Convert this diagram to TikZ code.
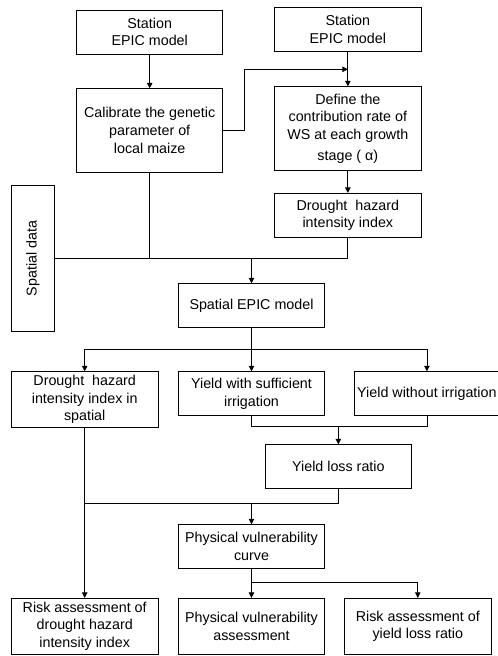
\documentclass[tikz,border=0pt]{standalone}
\usepackage{fontspec}
\setmainfont{Liberation Sans}
\usetikzlibrary{arrows.meta}
\begin{document}
\begin{tikzpicture}[x=1pt,y=-1pt,
  box/.style={draw,line width=0.8pt,align=center,inner sep=0pt,
    font=\fontsize{14.3}{17.7}\selectfont},
  arr/.style={line width=0.8pt,-{Triangle[length=5.5pt,width=5.5pt]}},
  ln/.style={line width=0.8pt}]
\useasboundingbox (0,0) rectangle (498,656);
% nodes
\node[box,minimum width=146pt,minimum height=44pt] (st1) at (149.7,32) {Station\\EPIC model};
\node[box,minimum width=146.3pt,minimum height=44pt] (st2) at (347.85,29.7) {Station\\EPIC model};
\node[box,minimum width=146pt,minimum height=83.3pt] (cal) at (149.7,130.35) {Calibrate the genetic\\parameter of\\local maize};
\node[box,minimum width=146.3pt,minimum height=83.3pt] (def) at (347.85,128.35) {Define the\\contribution rate of\\WS at each growth\\[3pt]stage ( α)};
\node[box,minimum width=146.3pt,minimum height=44pt] (dr) at (347.85,215.3) {Drought~ hazard\\intensity index};
\node[box,minimum width=43.7pt,minimum height=146.4pt] (sd) at (32.85,258.5) {};
\node[font=\fontsize{14.3}{17.7}\selectfont,rotate=90] (sdt) at (sd.center) {Spatial data};
\node[box,minimum width=145.6pt,minimum height=43.6pt] (sep) at (251.5,305.5) {Spatial EPIC model};
\node[box,minimum width=146.4pt,minimum height=55.6pt] (dsp) at (84.7,399.5) {Drought~ hazard\\intensity index in\\spatial};
\node[box,minimum width=145.6pt,minimum height=43.6pt] (yws) at (251.5,393.5) {Yield with sufficient\\irrigation};
\node[box,minimum width=145pt,minimum height=43.6pt] (ywo) at (426.9,393.5) {Yield without irrigation};
\node[box,minimum width=146.7pt,minimum height=44pt] (ylr) at (338.35,466.7) {Yield loss ratio};
\node[box,minimum width=145.6pt,minimum height=44pt] (pvc) at (251.5,546.7) {Physical vulnerability\\curve};
\node[box,minimum width=146.4pt,minimum height=55.7pt] (r1) at (84.7,626.15) {Risk assessment of\\drought hazard\\intensity index};
\node[box,minimum width=145.6pt,minimum height=55.7pt] (pva) at (251.5,626.15) {Physical vulnerability\\assessment};
\node[box,minimum width=147pt,minimum height=55.7pt] (r3) at (417.8,626.15) {Risk assessment of\\yield loss ratio};
% coordinates
\coordinate (k1) at (244.7,69.3);
\coordinate (k2) at (347.85,69.3);
\coordinate (m1) at (251.5,258.7);
\coordinate (m2) at (251.5,349.3);
\coordinate (m3) at (338.35,426.7);
\coordinate (m4) at (251.5,503);
\coordinate (m5) at (251.5,582.3);
% connectors
\draw[arr] (st1) -- (cal);
\draw[arr] (st2) -- (def);
\draw[arr] (cal.east) -| (k1) -- (k2);
\draw[arr] (def) -- (dr);
\draw[ln] (cal.south) -- (cal.south |- m1);
\draw[ln] (dr.south) -- (dr.south |- m1);
\draw[ln] (sd.east |- m1) -- (dr.south |- m1);
\draw[arr] (m1) -- (sep.north);
\draw[ln] (sep.south) -- (m2);
\draw[arr] (m2) -| (dsp.north);
\draw[arr] (m2) -- (yws.north);
\draw[arr] (m2) -| (ywo.north);
\draw[ln] (yws.south) |- (ywo.south |- m3) -- (ywo.south);
\draw[arr] (m3) -- (ylr.north);
\draw[ln] (ylr.south) |- (dsp.south |- m4);
\draw[arr] (dsp.south) -- (r1.north);
\draw[arr] (m4) -- (pvc.north);
\draw[ln] (pvc.south) -- (m5);
\draw[arr] (m5) -- (pva.north);
\draw[arr] (m5) -| (r3.north);
\end{tikzpicture}
\end{document}
